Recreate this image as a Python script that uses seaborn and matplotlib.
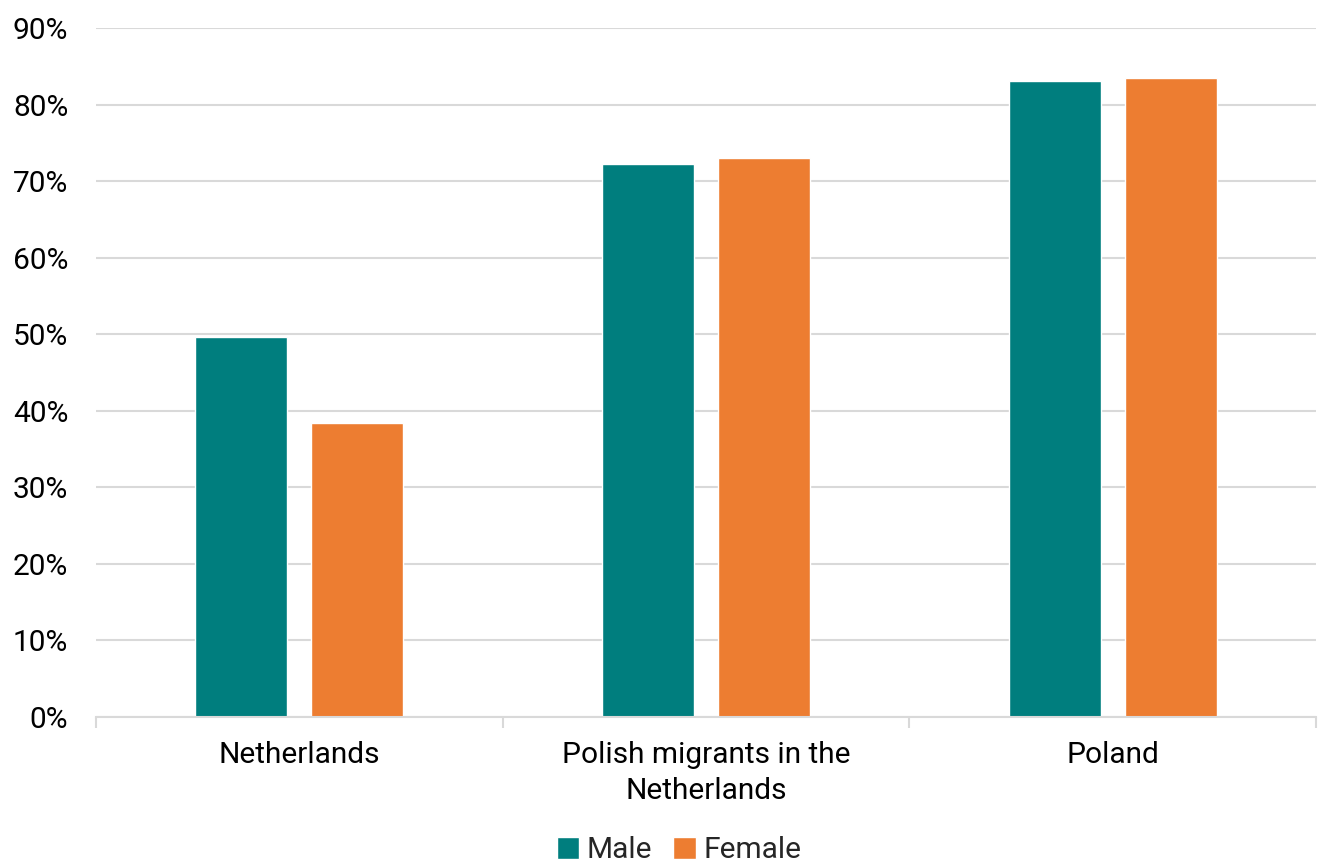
import matplotlib
matplotlib.use("Agg")
import matplotlib.pyplot as plt
import seaborn as sns
import pandas as pd
from matplotlib.ticker import FixedLocator, PercentFormatter

categories = ["Netherlands", "Polish migrants in the\nNetherlands", "Poland"]
male = [49.6, 72.2, 83.1]
female = [38.4, 73.0, 83.5]
series = ["Male", "Female"]
colors = ["#007E7E", "#ED7D31"]

df = pd.DataFrame({
    "category": categories * 2,
    "value": male + female,
    "sex": ["Male"] * 3 + ["Female"] * 3,
})

sns.set_theme(style="white")
plt.rcParams["font.family"] = ["Roboto", "DejaVu Sans"]

fig = plt.figure(figsize=(13.23, 8.64), dpi=100)
ax = fig.add_axes([96/1323, 1 - 717/864, (1316-96)/1323, (717-28)/864])

sns.barplot(data=df, x="category", y="value", hue="sex", hue_order=series,
            palette=colors, width=0.5704, gap=0.2076, ax=ax, saturation=1,
            legend=True)

ax.set_ylim(0, 90)
ax.set_xlim(-0.5, 2.5)
ax.set_yticks(range(0, 91, 10))
ax.yaxis.set_major_formatter(PercentFormatter(decimals=0))
ax.yaxis.grid(True, color="#D9D9D9", linewidth=1.5)
ax.set_axisbelow(True)
for s in ["left", "right", "top"]:
    ax.spines[s].set_visible(False)
ax.spines["bottom"].set_color("#D9D9D9")
ax.spines["bottom"].set_linewidth(1.5)
ax.set_xlabel("")
ax.set_ylabel("")
ax.tick_params(axis="y", length=0, pad=20, labelsize=21.5, labelcolor="#000000")
ax.tick_params(axis="x", which="major", length=0, pad=17, labelsize=21.5, labelcolor="#000000")
for lbl in ax.get_xticklabels():
    lbl.set_linespacing(1.4)
ax.xaxis.set_minor_locator(FixedLocator([-0.5, 0.5, 1.5, 2.5]))
ax.tick_params(axis="x", which="minor", length=8, width=1.5, color="#D9D9D9", bottom=True)

leg = ax.legend(loc="lower center", bbox_to_anchor=(0.478, -0.218), ncol=2, frameon=False,
                fontsize=21.5, handlelength=0.75, handleheight=0.75, handletextpad=0.25,
                columnspacing=0.7, borderaxespad=0, borderpad=0.1)

fig.savefig("out.png", dpi=100)
